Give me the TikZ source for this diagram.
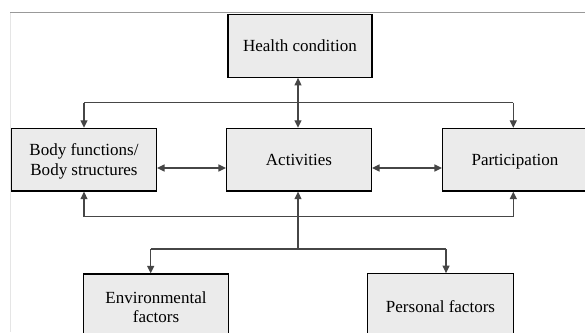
\documentclass[tikz,border=0pt]{standalone}
\usepackage{fontspec}
\setmainfont{Liberation Serif}
\usetikzlibrary{arrows.meta}
\definecolor{boxfill}{RGB}{235,235,235}
\definecolor{conn}{RGB}{70,70,70}
\tikzset{
  box/.style={draw=black, line width=1.2pt, fill=boxfill, rectangle, inner sep=2pt,
    align=center, font=\fontsize{17}{19.5}\selectfont, text depth=0pt},
  conn/.style={draw=conn, line width=1.3pt},
  tip/.style={-{Triangle[length=7.5pt,width=7pt]}},
  dtip/.style={{Triangle[length=7.5pt,width=7pt]}-{Triangle[length=7.5pt,width=7pt]}}
}
\begin{document}
\begin{tikzpicture}[x=1pt,y=-1pt]
\useasboundingbox (0,0) rectangle (585,332);
\clip (0,0) rectangle (585,332);
\fill[white] (0,0) rectangle (585,332);
\draw[gray!20, line width=0.8pt] (10,12.5) -- (10,332);
\draw[gray!80, line width=1.1pt] (10,12.5) -- (585,12.5);

\node[box, minimum width=144pt, minimum height=62.6pt] (hc) at (300,46) {Health condition};
\node[box, minimum width=145pt, minimum height=62.7pt] (bf) at (84,159.7) {Body functions/\\Body structures};
\node[box, minimum width=145pt, minimum height=62.7pt] (act) at (299,159.7) {Activities};
\node[box, minimum width=145pt, minimum height=62.7pt] (par) at (515,159.7) {Participation};
\node[box, minimum width=144.3pt, minimum height=66pt] (env) at (156,307) {Environmental\\factors};
\node[box, minimum width=145.6pt, minimum height=66pt] (per) at (440.5,306.7) {Personal factors};

\coordinate (vx) at (298,0);
\coordinate (hy) at (0,168);
\coordinate (t1) at (84,102.7);
\coordinate (t2) at (513.3,102.7);
\coordinate (b1) at (84,216.7);
\coordinate (b2) at (513.3,216.7);
\coordinate (sc) at (298,249);
\coordinate (s1) at (150.7,249);
\coordinate (s2) at (446,249);

% health <-> activities
\draw[conn, dtip] (hc.south -| vx) -- (act.north -| vx);
% top distribution line
\draw[conn] (t1) -- (t2);
\draw[conn, tip] (t1) -- (t1 |- bf.north);
\draw[conn, tip] (t2) -- (t2 |- par.north);
% horizontal double arrows
\draw[conn, dtip] (bf.east |- hy) -- (act.west |- hy);
\draw[conn, dtip] (act.east |- hy) -- (par.west |- hy);
% bottom line
\draw[conn] (b1) -- (b2);
\draw[conn, tip] (b1) -- (b1 |- bf.south);
\draw[conn, tip] (b2) -- (b2 |- par.south);
\draw[conn, tip] (sc) -- (sc |- act.south);
% split line
\draw[conn] (s1) -- (s2);
\draw[conn, tip] (s1) -- (s1 |- env.north);
\draw[conn, tip] (s2) -- (s2 |- per.north);
\end{tikzpicture}
\end{document}
